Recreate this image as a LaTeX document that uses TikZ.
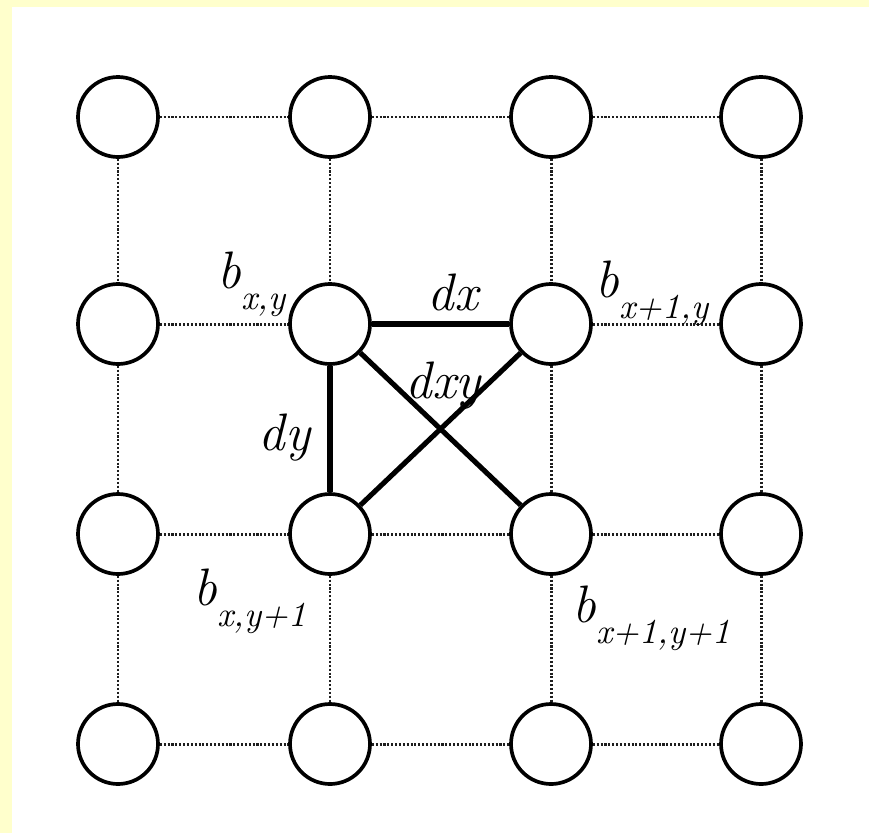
\documentclass[tikz,border=0pt]{standalone}
\usepackage{tikz}
\usetikzlibrary{positioning,calc}
\definecolor{fondo}{RGB}{255,255,204}
\definecolor{punteado}{RGB}{30,30,30}
\newcommand{\bsub}[1]{\textit{b}\raisebox{-6pt}{\fontsize{10}{11}\selectfont\textit{#1}}}

\begin{document}
\begin{tikzpicture}[
  celda/.style={draw, circle, line width=1.05pt, fill=white,
                minimum size=0.8cm, inner sep=0pt},
  rejilla/.style={punteado, line width=0.85pt,
                  dash pattern=on 0.6pt off 0.5pt},
  enlace/.style={line width=1.45pt},
  etiqueta/.style={anchor=base west, inner sep=0pt,
                   font=\fontsize{15}{16}\selectfont\itshape}]
  \useasboundingbox (0,0) rectangle (8.69,8.33);
  \fill[white] (0,0) rectangle (8.69,8.33);
  \fill[fondo] (0,0) rectangle (0.12,8.33);
  \fill[fondo] (0,8.26) rectangle (8.69,8.33);
  % nodes, row by row
  \node[celda] (c11) at (1.18,7.16) {};
  \node[celda] (c12) at (3.30,7.16) {};
  \node[celda] (c13) at (5.51,7.16) {};
  \node[celda] (c14) at (7.61,7.16) {};
  \node[celda] (c21) at (1.18,5.09) {};
  \node[celda] (c22) at (3.30,5.09) {};
  \node[celda] (c23) at (5.51,5.09) {};
  \node[celda] (c24) at (7.61,5.09) {};
  \node[celda] (c31) at (1.18,2.99) {};
  \node[celda] (c32) at (3.30,2.99) {};
  \node[celda] (c33) at (5.51,2.99) {};
  \node[celda] (c34) at (7.61,2.99) {};
  \node[celda] (c41) at (1.18,0.89) {};
  \node[celda] (c42) at (3.30,0.89) {};
  \node[celda] (c43) at (5.51,0.89) {};
  \node[celda] (c44) at (7.61,0.89) {};
  % dotted grid
  \draw[rejilla] (c11) -- (c12) -- (c13) -- (c14);
  \draw[rejilla] (c21) -- (c22);
  \draw[rejilla] (c23) -- (c24);
  \draw[rejilla] (c31) -- (c32) -- (c33) -- (c34);
  \draw[rejilla] (c41) -- (c42) -- (c43) -- (c44);
  \draw[rejilla] (c11) -- (c21) -- (c31) -- (c41);
  \draw[rejilla] (c12) -- (c22);
  \draw[rejilla] (c32) -- (c42);
  \draw[rejilla] (c13) -- (c23) -- (c33) -- (c43);
  \draw[rejilla] (c14) -- (c24) -- (c34) -- (c44);
  % solid links
  \draw[enlace] (c22) -- (c23);
  \draw[enlace] (c22) -- (c32);
  \draw[enlace] (c22) -- (c33);
  \draw[enlace] (c23) -- (c32);
  % labels
  \node[etiqueta] (bxy) at (2.17,5.45) {\bsub{x,y}};
  \node[etiqueta] (bx1y) at (5.95,5.36) {\bsub{x+1,y}};
  \node[etiqueta] (bxy1) at (1.93,2.28) {\bsub{x,y+1}};
  \node[etiqueta] (bx1y1) at (5.72,2.11) {\bsub{x+1,y+1}};
  \node[etiqueta] (dx) at (4.27,5.23) {dx};
  \node[etiqueta] (dxy) at (4.05,4.35) {dxy};
  \node[etiqueta] (dy) at (2.58,3.83) {dy};
\end{tikzpicture}
\end{document}
